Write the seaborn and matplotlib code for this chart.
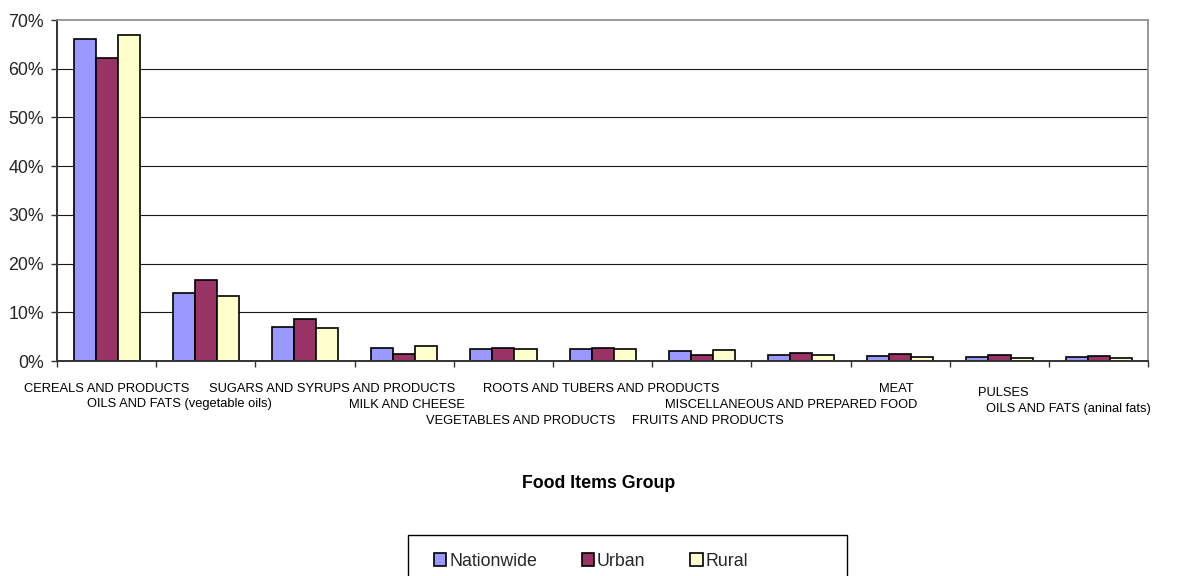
import matplotlib
matplotlib.use("Agg")
import matplotlib.pyplot as plt
import matplotlib.patches as mpatches
from matplotlib.ticker import FuncFormatter, FixedLocator, NullLocator
import numpy as np
import pandas as pd
import seaborn as sns

# Share of food expenditure by food items group (%)
categories = [
    "CEREALS AND PRODUCTS",
    "OILS AND FATS (vegetable oils)",
    "SUGARS AND SYRUPS AND PRODUCTS",
    "MILK AND CHEESE",
    "VEGETABLES AND PRODUCTS",
    "ROOTS AND TUBERS AND PRODUCTS",
    "FRUITS AND PRODUCTS",
    "MISCELLANEOUS AND PREPARED FOOD",
    "MEAT",
    "PULSES",
    "OILS AND FATS (aninal fats)",
]
series_names = ["Nationwide", "Urban", "Rural"]
nationwide = [66.0, 14.0, 7.0, 2.7, 2.5, 2.5, 2.0, 1.2, 1.0, 0.8, 0.8]
urban = [62.1, 16.7, 8.6, 1.4, 2.6, 2.7, 1.3, 1.6, 1.5, 1.2, 1.1]
rural = [67.0, 13.3, 6.7, 3.1, 2.5, 2.4, 2.3, 1.2, 0.9, 0.7, 0.7]
y_ticks = [0, 10, 20, 30, 40, 50, 60, 70]

colors = ["#9999FF", "#993366", "#FFFFCC"]

# staggered category label placement: (x in data units, baseline in px below plot)
label_x = [0.0, 0.73, 2.27, 3.03, 4.175, 4.99, 6.06, 6.905, 7.955, 9.04, 9.695]
label_row = [31.5, 46.5, 31.5, 46.5, 62.5, 31.5, 63.0, 47.0, 30.5, 35.5, 51.0]

df = pd.DataFrame({
    "category": np.repeat(categories, 3),
    "series": series_names * len(categories),
    "value": np.column_stack([nationwide, urban, rural]).ravel(),
})

sns.set_style("white")
plt.rcParams["font.family"] = ["Liberation Sans", "DejaVu Sans"]

W, H, DPI = 1185, 576, 100
fig = plt.figure(figsize=(W / DPI, H / DPI), dpi=DPI)
left_px, right_px, top_px, bottom_px = 57, 1148.3, 20, 361
ax = fig.add_axes([left_px / W, 1 - bottom_px / H,
                   (right_px - left_px) / W, (bottom_px - top_px) / H])

sns.barplot(data=df, x="category", y="value", hue="series", order=categories,
            hue_order=series_names, palette=colors, width=0.667,
            edgecolor="black", linewidth=1.2, saturation=1, ax=ax, legend=False)

ax.set_xlim(-0.5, len(categories) - 0.5)
ax.set_ylim(0, 70)
ax.set_xlabel("")
ax.set_ylabel("")

# gridlines
for v in y_ticks[1:-1]:
    ax.axhline(v, color="#1a1a1a", lw=0.8, zorder=0)
ax.set_axisbelow(True)

# y axis
ax.yaxis.set_major_locator(FixedLocator(y_ticks))
ax.yaxis.set_major_formatter(FuncFormatter(lambda v, p: f"{v:.0f}%"))
ax.tick_params(axis="y", which="major", direction="out", length=4.5, width=1,
               color="#333333", labelsize=12.8, pad=5, left=True)

# x axis: tick marks between categories, labels placed separately
ax.xaxis.set_major_locator(NullLocator())
ax.xaxis.set_minor_locator(FixedLocator(np.arange(-0.5, len(categories), 1.0)))
ax.tick_params(axis="x", which="minor", direction="out", length=4.5, width=1,
               color="#333333", bottom=True)

for s in ["left", "bottom"]:
    ax.spines[s].set_color("#333333")
    ax.spines[s].set_linewidth(1.4)
for s in ["top", "right"]:
    ax.spines[s].set_color("#888888")
    ax.spines[s].set_linewidth(1.2)

ax_h_px = bottom_px - top_px
for name, lx, ly in zip(categories, label_x, label_row):
    ax.text(lx, -ly / ax_h_px, name, transform=ax.get_xaxis_transform(),
            ha="center", va="baseline", fontsize=9.3, color="black")

fig.text(599 / W, 1 - 484 / H, "Food Items Group", ha="center", va="center",
         fontsize=12.8, fontweight="bold", color="black")

# legend with its frame
handles = [mpatches.Patch(facecolor=c, edgecolor="black", linewidth=1.2, label=n)
           for c, n in zip(colors, series_names)]
fig.legend(handles=handles, loc="center left", ncol=3,
           bbox_to_anchor=(434 / W, 1 - 561 / H), frameon=False,
           fontsize=12.8, handlelength=0.7, handleheight=0.7,
           handletextpad=0.15, columnspacing=2.52, borderpad=0,
           borderaxespad=0)
frame = mpatches.Rectangle((408 / W, -20 / H), (847 - 408) / W, (576 - 535 + 20) / H,
                           transform=fig.transFigure, facecolor="none",
                           edgecolor="black", linewidth=1.0, clip_on=False)
fig.patches.append(frame)

fig.savefig("out.png", dpi=DPI)
